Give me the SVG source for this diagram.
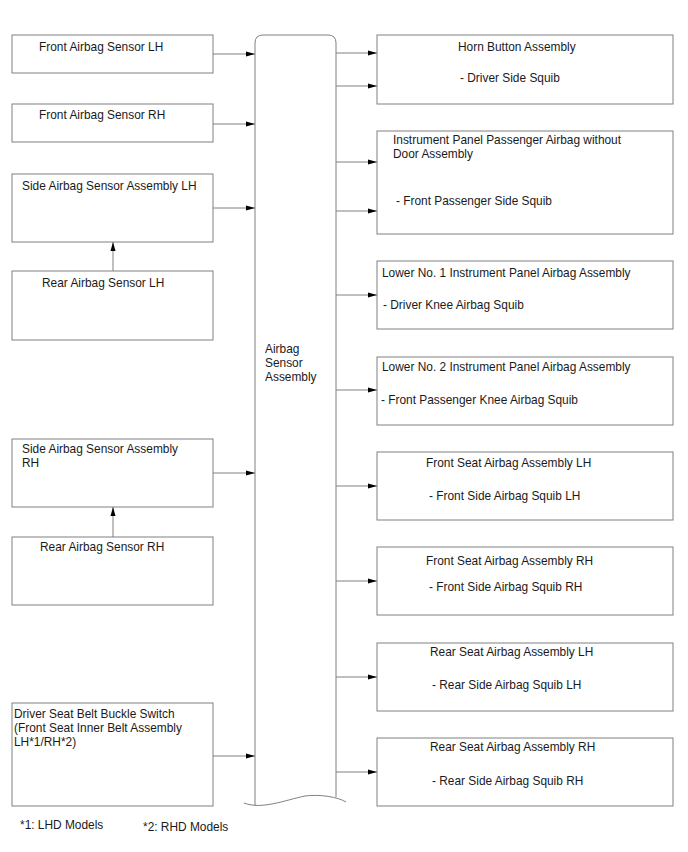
<svg xmlns="http://www.w3.org/2000/svg" width="688" height="852" viewBox="0 0 688 852">
<style>
.box{fill:#fff;stroke:#808080;stroke-width:1}
.t{font-family:"Liberation Sans",Arial,sans-serif;font-size:11.9px;fill:#1a1a1a}
.c{stroke:#808080;stroke-width:1;fill:none;marker-end:url(#ah)}
</style>
<defs>
<marker id="ah" markerWidth="9" markerHeight="6" refX="9" refY="3" orient="auto" markerUnits="userSpaceOnUse">
<path d="M0,0.5 L9,3 L0,5.5 Z" fill="#000"/>
</marker>
</defs>
<rect width="688" height="852" fill="#fff"/>

<g id="main">
<path d="M255,806 L255,43 Q255,35 263,35 L328,35 Q336,35 336,43 L336,797" fill="none" stroke="#808080"/>
<path d="M244,803 C262,810 285,800 305,796 C320,794 338,797 346,802" fill="none" stroke="#808080"/>
<text class="t" x="265" y="353">Airbag</text>
<text class="t" x="265" y="367">Sensor</text>
<text class="t" x="265" y="381">Assembly</text>
</g>

<g id="front-lh"><rect class="box" x="12" y="35" width="201" height="38"/><text class="t" x="39" y="51">Front Airbag Sensor LH</text></g>
<g id="front-rh"><rect class="box" x="12" y="104" width="201" height="38"/><text class="t" x="39" y="119">Front Airbag Sensor RH</text></g>
<g id="side-lh"><rect class="box" x="12" y="174" width="201" height="68"/><text class="t" x="22" y="190">Side Airbag Sensor Assembly LH</text></g>
<g id="rear-lh"><rect class="box" x="12" y="271" width="201" height="69"/><text class="t" x="42" y="287">Rear Airbag Sensor LH</text></g>
<g id="side-rh"><rect class="box" x="12" y="439" width="201" height="68"/><text class="t" x="22" y="453">Side Airbag Sensor Assembly</text><text class="t" x="22" y="467">RH</text></g>
<g id="rear-rh"><rect class="box" x="12" y="537" width="201" height="68"/><text class="t" x="40" y="551">Rear Airbag Sensor RH</text></g>
<g id="buckle"><rect class="box" x="12" y="703" width="201" height="103"/><text class="t" x="14" y="718">Driver Seat Belt Buckle Switch</text><text class="t" x="14" y="732">(Front Seat Inner Belt Assembly</text><text class="t" x="14" y="746">LH*1/RH*2)</text></g>

<g id="horn"><rect class="box" x="377" y="35" width="296" height="69"/><text class="t" x="458" y="51">Horn Button Assembly</text><text class="t" x="460" y="82">- Driver Side Squib</text></g>
<g id="ip"><rect class="box" x="377" y="131" width="296" height="103"/><text class="t" x="393" y="144">Instrument Panel Passenger Airbag without</text><text class="t" x="393" y="158">Door Assembly</text><text class="t" x="396" y="205">- Front Passenger Side Squib</text></g>
<g id="lower1"><rect class="box" x="377" y="261" width="296" height="68"/><text class="t" x="382" y="277">Lower No. 1 Instrument Panel Airbag Assembly</text><text class="t" x="383" y="309">- Driver Knee Airbag Squib</text></g>
<g id="lower2"><rect class="box" x="377" y="357" width="296" height="68"/><text class="t" x="382" y="371">Lower No. 2 Instrument Panel Airbag Assembly</text><text class="t" x="381" y="404">- Front Passenger Knee Airbag Squib</text></g>
<g id="fseat-lh"><rect class="box" x="377" y="452" width="296" height="68"/><text class="t" x="426" y="467">Front Seat Airbag Assembly LH</text><text class="t" x="429" y="500">- Front Side Airbag Squib LH</text></g>
<g id="fseat-rh"><rect class="box" x="377" y="547" width="296" height="68"/><text class="t" x="426" y="565">Front Seat Airbag Assembly RH</text><text class="t" x="429" y="591">- Front Side Airbag Squib RH</text></g>
<g id="rseat-lh"><rect class="box" x="377" y="643" width="296" height="68"/><text class="t" x="430" y="656">Rear Seat Airbag Assembly LH</text><text class="t" x="432" y="689">- Rear Side Airbag Squib LH</text></g>
<g id="rseat-rh"><rect class="box" x="377" y="738" width="296" height="68"/><text class="t" x="430" y="751">Rear Seat Airbag Assembly RH</text><text class="t" x="432" y="785">- Rear Side Airbag Squib RH</text></g>

<g id="connectors">
<line class="c" x1="213" y1="54" x2="255" y2="54"/>
<line class="c" x1="213" y1="124" x2="255" y2="124"/>
<line class="c" x1="213" y1="208" x2="255" y2="208"/>
<line class="c" x1="113" y1="271" x2="113" y2="242"/>
<line class="c" x1="213" y1="473" x2="255" y2="473"/>
<line class="c" x1="113" y1="537" x2="113" y2="507"/>
<line class="c" x1="213" y1="756" x2="255" y2="756"/>
<line class="c" x1="336" y1="53" x2="377" y2="53"/>
<line class="c" x1="336" y1="86" x2="377" y2="86"/>
<line class="c" x1="336" y1="162" x2="377" y2="162"/>
<line class="c" x1="336" y1="211" x2="377" y2="211"/>
<line class="c" x1="336" y1="295" x2="377" y2="295"/>
<line class="c" x1="336" y1="390" x2="377" y2="390"/>
<line class="c" x1="336" y1="486" x2="377" y2="486"/>
<line class="c" x1="336" y1="581" x2="377" y2="581"/>
<line class="c" x1="336" y1="677" x2="377" y2="677"/>
<line class="c" x1="336" y1="772" x2="377" y2="772"/>
</g>

<text class="t" x="20" y="829">*1: LHD Models</text>
<text class="t" x="143" y="831">*2: RHD Models</text>
</svg>
